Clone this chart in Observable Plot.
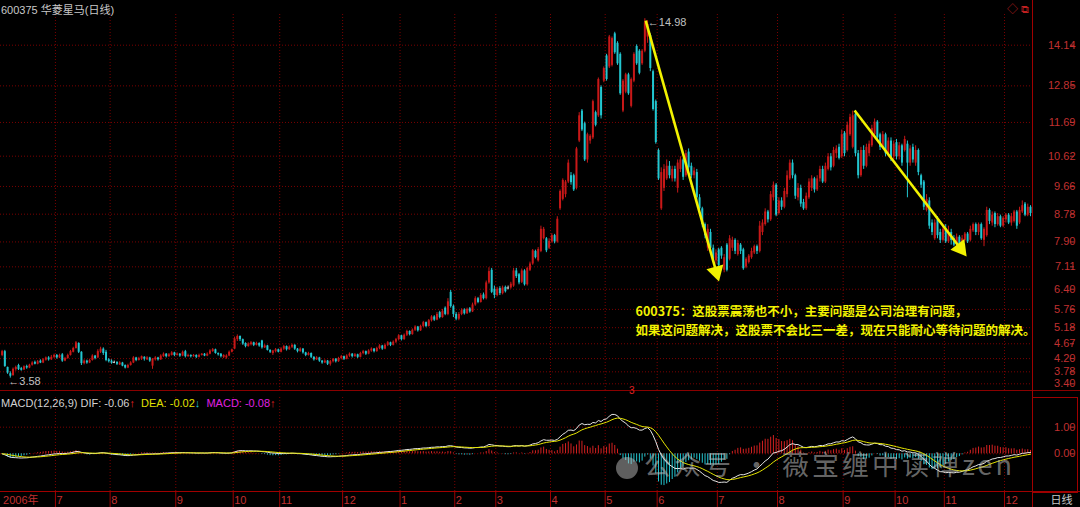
<!DOCTYPE html>
<html><head><meta charset="utf-8">
<script src="https://cdn.jsdelivr.net/npm/d3@7"></script>
<script src="https://cdn.jsdelivr.net/npm/@observablehq/plot@0.6"></script>
<style>
body{margin:0;background:#000;}
#wrap{position:relative;width:1080px;height:507px;background:#000;overflow:hidden;font-family:"Liberation Sans","Noto Sans CJK SC",sans-serif;}
.abs{position:absolute;}
#title{left:1px;top:1px;font-size:11px;color:#c8c8c8;white-space:pre;}
#macdHead{left:1px;top:397px;font-size:11px;color:#d2d2d2;white-space:pre;}
#icons{left:1007px;top:0px;font-size:11px;color:#c02020;white-space:pre;}
#wm{left:616px;top:444px;font-family:"Noto Sans CJK SC",sans-serif;font-size:27px;color:rgba(190,190,190,0.55);white-space:pre;letter-spacing:3px;}
.vline{position:absolute;left:1032px;top:0;width:1px;height:507px;background:#a00000;}
.hline{position:absolute;left:0;width:1080px;height:1px;background:#8a0000;}
#box{position:absolute;left:1032px;top:397px;width:45px;height:94px;border:1px solid #a00000;border-left:none;}
</style></head><body>
<div id="wrap">
  <div id="mainChart" class="abs" style="left:0;top:0"></div>
  <div id="macdChart" class="abs" style="left:0;top:390px"></div>
  <div id="axisChart" class="abs" style="left:0;top:491px"></div>
  <div class="hline" style="top:390px"></div>
  <div class="hline" style="top:491px;background:#a00000"></div>
  <div id="box"></div>
  <div class="vline"></div>
  <div id="title" class="abs">600375 华菱星马(日线)</div>
  <div id="icons" class="abs">◇ ⧉</div>
  <div id="macdHead" class="abs">MACD(12,26,9) DIF: -0.06<span style="color:#e02020">↑</span>  <span style="color:#e0e000">DEA: -0.02</span><span style="color:#20c8d8">↓</span>  <span style="color:#e020e0">MACD: -0.08</span><span style="color:#e02020">↑</span></div>
  <div class="abs" style="left:629px;top:385px;font-size:10px;color:#e02020">3</div>
  <div id="wm" class="abs"><span style="display:inline-block;width:22px;height:22px;border-radius:50%;background:rgba(190,190,190,0.5);vertical-align:middle;margin-right:6px"></span>公众号 · 薇宝缠中读禅zen</div>
</div>
<script>
// ---------- data ----------
const monthTickIndex = [0, 20, 40, 64, 85, 102, 125, 146, 166, 181, 201, 221, 240, 262, 284, 308, 327, 345, 367];
const monthTickLabel = ["2006年","7","8","9","10","11","12","1","2","3","4","5","6","7","8","9","10","11","12"];
const priceTicks = [3.40,3.78,4.20,4.67,5.18,5.76,6.40,7.11,7.90,8.78,9.66,10.62,11.69,12.85,14.14];
const macdTicks = [0, 1];
// daily candles: [open, high, low, close]
const candles = [
[4.30,4.46,4.26,4.42],[4.42,4.46,3.92,3.95],[3.92,3.93,3.70,3.74],[3.72,3.78,3.58,3.64],[3.66,3.90,3.64,3.86],
[3.85,3.96,3.80,3.92],[3.98,4.02,3.82,3.85],[3.88,3.92,3.80,3.83],[3.84,3.97,3.82,3.94],[3.95,3.99,3.86,3.90],
[3.90,4.02,3.88,3.99],[3.99,4.10,3.96,4.06],[4.08,4.12,4.00,4.02],[4.02,4.14,4.00,4.10],[4.12,4.16,4.04,4.06],
[4.06,4.20,4.04,4.16],[4.15,4.25,4.12,4.22],[4.22,4.26,4.12,4.16],[4.16,4.30,4.14,4.24],[4.24,4.34,4.20,4.30],
[4.30,4.33,4.18,4.22],[4.22,4.34,4.20,4.30],[4.32,4.36,4.08,4.12],[4.12,4.24,4.10,4.20],[4.20,4.34,4.18,4.30],
[4.30,4.46,4.28,4.42],[4.40,4.56,4.38,4.52],[4.52,4.74,4.50,4.70],[4.68,4.70,4.36,4.40],[4.40,4.42,3.98,4.04],
[4.04,4.16,4.00,4.12],[4.12,4.15,4.02,4.06],[4.06,4.18,4.04,4.14],[4.14,4.32,4.12,4.28],[4.28,4.30,4.16,4.20],
[4.22,4.48,4.20,4.42],[4.40,4.56,4.36,4.50],[4.50,4.54,4.30,4.36],[4.40,4.46,4.10,4.14],[4.16,4.20,4.06,4.10],
[4.12,4.16,4.02,4.06],[4.08,4.12,4.04,4.08],[4.08,4.10,3.98,4.02],[4.00,4.10,3.98,4.06],[4.06,4.08,3.94,3.96],
[3.98,4.00,3.87,3.90],[3.90,4.02,3.88,3.98],[3.98,4.10,3.96,4.06],[4.06,4.26,4.04,4.22],[4.22,4.24,4.10,4.14],
[4.14,4.24,4.12,4.20],[4.18,4.28,4.14,4.26],[4.24,4.26,4.12,4.18],[4.16,4.26,4.14,4.22],[4.22,4.24,4.08,4.12],
[3.96,4.20,3.86,4.18],[4.16,4.26,4.12,4.22],[4.22,4.24,4.12,4.16],[4.16,4.32,4.14,4.28],[4.26,4.38,4.24,4.34],
[4.34,4.36,4.22,4.26],[4.26,4.36,4.24,4.32],[4.30,4.42,4.28,4.38],[4.38,4.40,4.26,4.30],
[4.30,4.38,4.28,4.34],[4.34,4.36,4.24,4.28],[4.28,4.44,4.26,4.40],[4.42,4.46,4.22,4.26],[4.26,4.34,4.24,4.30],
[4.30,4.32,4.22,4.26],[4.26,4.33,4.24,4.30],[4.30,4.32,4.20,4.24],[4.24,4.34,4.22,4.30],[4.30,4.36,4.28,4.34],
[4.34,4.36,4.26,4.28],[4.28,4.38,4.26,4.34],[4.34,4.48,4.32,4.44],[4.42,4.52,4.40,4.48],[4.48,4.50,4.34,4.36],
[4.36,4.38,4.28,4.32],[4.34,4.36,4.22,4.26],[4.24,4.32,4.20,4.30],[4.22,4.32,4.18,4.28],[4.28,4.44,4.26,4.40],
[4.40,4.50,4.38,4.48],
[4.50,4.88,4.48,4.82],[4.80,4.95,4.74,4.90],[4.90,4.92,4.74,4.80],[4.80,4.82,4.62,4.66],[4.68,4.70,4.54,4.58],
[4.58,4.70,4.56,4.66],[4.64,4.74,4.60,4.70],[4.70,4.72,4.58,4.62],[4.62,4.72,4.60,4.68],[4.68,4.70,4.56,4.60],
[4.76,4.78,4.50,4.54],[4.54,4.64,4.52,4.60],[4.60,4.62,4.44,4.46],[4.46,4.48,4.36,4.40],[4.36,4.46,4.30,4.44],
[4.42,4.52,4.38,4.48],[4.48,4.50,4.38,4.40],
[4.40,4.54,4.38,4.50],[4.50,4.62,4.46,4.58],[4.58,4.60,4.44,4.48],[4.48,4.60,4.46,4.56],[4.56,4.66,4.52,4.62],
[4.62,4.64,4.46,4.50],[4.50,4.52,4.38,4.42],[4.42,4.54,4.40,4.50],[4.50,4.52,4.34,4.38],[4.38,4.40,4.26,4.30],
[4.30,4.40,4.28,4.36],[4.36,4.38,4.20,4.24],[4.24,4.26,4.12,4.16],[4.16,4.26,4.14,4.22],[4.22,4.24,4.08,4.12],
[4.12,4.14,4.02,4.06],[4.06,4.16,4.04,4.12],[4.12,4.14,3.98,4.02],[4.02,4.14,3.96,4.10],[4.10,4.20,4.06,4.18],
[4.18,4.20,4.06,4.10],[4.10,4.24,4.08,4.20],
[4.20,4.30,4.16,4.26],[4.26,4.28,4.14,4.18],[4.18,4.32,4.16,4.28],[4.28,4.38,4.24,4.34],[4.34,4.36,4.22,4.26],
[4.26,4.36,4.24,4.32],[4.32,4.34,4.20,4.24],[4.24,4.40,4.22,4.36],[4.36,4.46,4.32,4.42],[4.42,4.44,4.30,4.34],
[4.34,4.48,4.32,4.44],[4.44,4.54,4.40,4.50],[4.50,4.52,4.38,4.42],[4.42,4.56,4.40,4.52],[4.52,4.64,4.48,4.60],
[4.60,4.62,4.46,4.50],[4.50,4.66,4.48,4.62],[4.62,4.74,4.58,4.70],[4.70,4.72,4.58,4.62],[4.62,4.76,4.60,4.72],
[4.72,4.84,4.68,4.80],
[4.80,4.96,4.76,4.92],[4.92,4.94,4.76,4.80],[4.80,4.98,4.78,4.94],[4.94,5.10,4.90,5.06],[5.06,5.08,4.92,4.96],
[4.96,5.14,4.94,5.10],[5.10,5.24,5.06,5.20],[5.20,5.22,5.04,5.08],[5.08,5.26,5.06,5.22],[5.22,5.38,5.18,5.34],
[5.34,5.36,5.18,5.22],[5.22,5.44,5.20,5.40],[5.40,5.56,5.36,5.52],[5.52,5.56,5.38,5.42],[5.42,5.66,5.40,5.60],
[5.66,5.70,5.46,5.50],[5.50,5.76,5.48,5.70],[5.80,5.84,5.56,5.60],[5.60,6.10,5.56,6.00],[6.30,6.36,5.80,5.85],
[5.85,5.90,5.50,5.60],[5.60,5.66,5.40,5.45],[5.45,5.66,5.40,5.60],[5.60,5.78,5.56,5.72],[5.74,5.78,5.58,5.62],
[5.62,5.80,5.60,5.76],[5.78,5.82,5.64,5.68],[5.68,5.96,5.66,5.90],[5.90,6.16,5.86,6.10],[6.10,6.14,5.94,5.98],
[5.98,6.26,5.96,6.20],[6.22,6.28,6.06,6.10],[6.10,6.66,6.06,6.60],[6.60,7.08,6.56,6.96],[7.00,7.06,6.26,6.30],
[6.40,6.50,6.10,6.20],[6.20,6.46,6.16,6.40],[6.42,6.48,6.20,6.26],[6.26,6.50,6.22,6.44],[6.46,6.50,6.28,6.32],
[6.44,6.50,6.38,6.44],[6.44,6.62,6.40,6.56],[6.50,7.06,6.46,6.98],[6.98,7.06,6.74,6.80],[6.86,6.90,6.54,6.60],
[6.62,7.04,6.58,6.98],[6.98,7.02,6.50,6.54],[6.54,7.10,6.50,7.06],[7.00,7.26,6.96,7.20],[7.20,7.66,7.16,7.62],
[7.60,7.64,7.36,7.40],[7.30,7.72,7.26,7.66],[7.60,8.40,7.56,8.30],[8.00,8.36,7.96,8.30],[8.00,8.04,7.56,7.62],
[7.70,8.00,7.66,7.92],[7.90,8.16,7.86,8.10],[8.10,8.14,7.84,7.90],[7.90,8.70,7.86,8.62],
[8.95,9.55,8.90,9.50],[9.25,9.90,9.20,9.85],[9.40,9.85,9.30,9.80],[9.80,10.50,9.75,10.40],[10.00,10.10,9.70,9.78],
[10.00,10.05,9.50,9.55],[9.60,10.90,9.55,10.85],[11.10,12.00,11.05,11.90],[12.05,12.10,11.40,11.45],[11.65,11.70,10.45,10.50],
[10.50,11.35,10.40,11.30],[11.10,11.30,11.00,11.25],[11.20,12.40,11.15,12.35],[12.00,12.05,11.55,11.60],[11.90,13.10,11.85,13.05],
[12.80,12.85,11.80,11.90],[13.00,13.45,12.95,13.40],[13.80,13.85,13.00,13.05],[13.45,14.45,13.40,14.40],[13.50,14.40,13.45,14.35],
[14.50,14.55,13.85,13.90],[14.20,14.25,13.50,13.55],[13.85,13.90,12.55,12.60],[12.05,13.05,12.00,13.00],[12.65,13.25,12.60,13.20],
[13.20,13.25,12.55,12.60],[12.20,13.10,12.15,13.05],[13.00,13.90,12.95,13.85],[14.10,14.15,13.50,13.55],[13.95,14.00,13.20,13.25],
[13.55,14.00,13.50,13.95],[13.95,14.98,13.90,14.85],[14.40,14.92,14.20,14.80],[14.45,14.50,13.30,13.40],[13.30,13.35,12.05,12.10],
[12.35,12.40,11.00,11.05],[10.80,10.85,9.85,9.90],
[8.95,10.25,8.90,10.10],[9.60,10.35,9.50,10.20],[9.90,10.50,9.85,10.30],[10.30,10.45,9.90,10.00],[9.90,10.30,9.80,10.20],
[10.20,10.30,9.80,9.90],[9.60,10.50,9.45,10.40],[10.20,10.60,10.10,10.50],[10.50,10.55,9.85,9.95],[10.00,10.80,9.95,10.70],
[10.75,10.85,10.15,10.25],[10.30,10.40,9.90,10.00],[10.00,10.25,9.90,10.15],[10.10,10.20,9.20,9.30],[9.30,9.40,8.90,8.95],
[8.95,9.00,8.35,8.45],[8.45,8.50,8.00,8.10],[7.70,8.45,7.60,8.30],[8.20,8.30,7.60,7.70],[7.70,7.80,7.30,7.35],
[7.30,7.65,7.20,7.55],[7.65,7.70,7.10,7.15],[7.70,7.75,7.35,7.45],[7.00,7.50,6.92,7.40],[7.80,7.85,6.95,7.00],
[7.35,8.10,7.30,8.00],[7.70,8.05,7.60,7.95],[7.95,8.00,7.50,7.60],[7.50,7.95,7.45,7.85],[7.80,7.85,7.50,7.60],
[7.65,7.70,7.00,7.05],[7.10,7.40,7.05,7.35],[7.25,7.50,7.20,7.45],[7.40,7.70,7.35,7.60],[7.55,7.80,7.50,7.75],
[7.75,7.80,7.50,7.60],[7.60,8.55,7.55,8.40],[8.20,8.60,8.10,8.50],[8.45,8.95,8.40,8.85],[8.85,8.90,8.50,8.60],
[8.60,9.50,8.55,9.40],[9.30,9.80,9.20,9.70],[9.70,9.75,8.70,8.75],[8.80,9.30,8.75,9.20],[9.20,9.30,8.90,9.00],
[9.00,9.60,8.95,9.50],[9.40,10.15,9.30,10.00],[9.90,10.50,9.85,10.40],[10.40,10.50,9.90,10.00],[10.00,10.05,9.25,9.35],
[9.30,9.75,9.20,9.60],[9.60,9.70,9.00,9.10],[9.15,9.25,8.90,8.95],[8.95,9.45,8.90,9.35],[9.30,9.90,9.25,9.80],
[9.60,10.00,9.50,9.90],[9.90,9.95,9.45,9.55],[9.55,10.00,9.50,9.90],[9.90,10.30,9.80,10.20],[10.20,10.30,9.75,9.80],
[9.80,10.40,9.75,10.30],[10.20,10.70,10.15,10.60],[10.60,10.70,10.15,10.25],[10.30,10.90,10.25,10.80],[10.70,10.95,10.55,10.85],
[10.90,11.00,10.50,10.55],[10.60,11.45,10.55,11.30],[11.35,11.40,10.60,10.70],[10.80,11.70,10.75,11.60],[11.30,11.95,11.25,11.85],
[10.90,12.05,10.85,11.90],[11.95,12.07,10.60,10.70],[10.70,10.80,9.90,10.00],[10.00,10.90,9.95,10.80],[10.80,10.95,10.20,10.30],
[10.30,11.00,10.25,10.90],[10.70,11.10,10.60,11.00],[10.95,11.60,10.90,11.50],[11.30,11.80,11.20,11.70],[11.70,11.75,11.10,11.20],
[11.30,11.35,10.80,10.90],[10.90,11.40,10.85,11.30],[11.30,11.35,10.60,10.70],[10.70,11.20,10.60,11.10],[11.10,11.20,10.45,10.55],
[10.60,11.10,10.50,11.00],[11.05,11.15,10.50,10.60],[10.60,11.05,10.50,10.95],[10.95,11.00,10.30,10.40],[10.80,11.25,10.75,11.15],
[11.00,11.10,9.30,10.40],[10.40,10.95,10.30,10.85],[10.90,11.00,10.40,10.50],[10.40,10.95,10.30,10.80],[10.80,10.85,10.00,10.10],
[10.00,10.05,9.60,9.70],[9.80,9.85,8.90,9.00],[8.90,9.40,8.85,9.25],[9.20,9.30,8.30,8.40],[8.50,8.60,8.10,8.20],
[8.00,8.60,7.95,8.50],[8.60,8.70,8.00,8.10],[8.20,8.30,7.85,7.95],[7.95,8.40,7.90,8.30],[8.30,8.45,7.85,7.90],
[7.90,8.40,7.85,8.20],[8.20,8.30,7.80,7.95],[8.00,8.10,7.75,7.80],[7.80,8.15,7.75,8.05],[8.05,8.10,7.72,7.80],
[7.75,8.10,7.70,8.00],[7.95,8.20,7.90,8.15],[8.15,8.20,7.85,7.90],[7.95,8.40,7.90,8.30],[8.25,8.50,8.20,8.45],
[8.45,8.50,8.10,8.20],[8.20,8.50,8.10,8.45],[8.45,8.50,7.95,8.00],[7.95,8.35,7.75,8.30],[8.10,9.00,8.05,8.90],
[8.90,8.95,8.45,8.55],[8.50,8.85,8.40,8.75],[8.80,8.85,8.35,8.45],[8.45,8.80,8.40,8.70],[8.70,8.75,8.35,8.40],
[8.40,8.70,8.35,8.65],[8.60,8.80,8.50,8.75],[8.75,8.80,8.45,8.50],[8.50,8.80,8.40,8.70],[8.55,8.90,8.50,8.85],
[8.85,8.90,8.30,8.40],[8.50,9.00,8.45,8.90],[8.85,9.20,8.80,9.05],[9.10,9.15,8.70,8.75],[8.75,9.10,8.70,9.00],
[9.00,9.05,8.70,8.80]
];
const highMark = [{i: 235, price: 14.98}];
const lowMark = [{i: 3, price: 3.58}];
const trendArrows = [
  {i1: 235.3, p1: 14.92, i2: 261.6, p2: 6.80},
  {i1: 311.7, p1: 12.07, i2: 351.5, p2: 7.57}
];
const noteLines = [
  "600375：这股票震荡也不小，主要问题是公司治理有问题，",
  "如果这问题解决，这股票不会比三一差，现在只能耐心等待问题的解决。"
];
const notePrices = [5.68, 5.09];
const noteIndex = 231.6;

// ---------- derived ----------
const rows = candles.map((d, i) => ({i, o: d[0], h: d[1], l: d[2], c: d[3]}));
const RED = "#c81818", CYAN = "#22c6d0", DOJI = "#d8d8d8";
const col = d => d.c > d.o ? RED : d.c < d.o ? CYAN : DOJI;
// MACD(12,26,9) computed from the closes
let e12 = rows[0].c, e26 = rows[0].c, dea = 0;
const macd = rows.map((d, k) => {
  if (k > 0) { e12 = e12 * 11 / 13 + d.c * 2 / 13; e26 = e26 * 25 / 27 + d.c * 2 / 27; }
  const dif = e12 - e26;
  dea = dea * 8 / 10 + dif * 2 / 10;
  return {i: d.i, dif, dea, bar: 2 * (dif - dea)};
});

const X = {domain: [0, 376], range: [1.6, 1030], axis: null};
const Y = {domain: [3.40, 14.14], range: [383.3, 44.7]};
const GRID = "#7a0000";
const YELLOW = "#f2f200";
const FONT = "Liberation Sans, Noto Sans CJK SC, sans-serif";
const sep = monthTickIndex.slice(1).map(d => d - 0.5);

// filled arrow heads: orient a triangle along each arrow (same linear mapping as the plot scales)
const sx = d3.scaleLinear(X.domain, X.range), sy = d3.scaleLinear(Y.domain, Y.range);
const heads = trendArrows.map(a => {
  const dx = sx(a.i2) - sx(a.i1), dy = sy(a.p2) - sy(a.p1), len = Math.hypot(dx, dy);
  const ux = dx / len, uy = dy / len, back = 5;
  return {
    i: sx.invert(sx(a.i2) - ux * back), p: sy.invert(sy(a.p2) - uy * back),
    rot: Math.atan2(dx, -dy) * 180 / Math.PI,
    ti: sx.invert(sx(a.i2) - ux * 8), tp: sy.invert(sy(a.p2) - uy * 8)
  };
});
const shafts = trendArrows.map((a, k) => ({i1: a.i1, p1: a.p1, i2: heads[k].ti, p2: heads[k].tp}));

const main = Plot.plot({
  width: 1080, height: 390, marginTop: 14, marginBottom: 0, marginLeft: 0, marginRight: 48,
  style: {background: "transparent", fontFamily: FONT, fontSize: "11px", overflow: "visible"},
  x: X,
  y: Y,
  marks: [
    Plot.ruleY(priceTicks, {stroke: GRID, strokeDasharray: "1,2"}),
    Plot.ruleX(sep, {stroke: GRID, strokeDasharray: "1,2"}),
    Plot.axisY(priceTicks, {anchor: "right", tickSize: 4, tickPadding: 2, textAnchor: "end", dx: 37,
      tickFormat: d => d.toFixed(2), color: "#c03030", label: null, fontSize: 11}),
    Plot.ruleX(rows, {x: "i", y1: "l", y2: "h", stroke: col, strokeWidth: 1}),
    Plot.ruleX(rows.filter(d => d.o !== d.c), {x: "i", y1: "o", y2: "c", stroke: col, strokeWidth: 2}),
    Plot.ruleY(rows.filter(d => d.o === d.c), {y: "c", x1: d => d.i - 0.4, x2: d => d.i + 0.4, stroke: DOJI}),
    Plot.link(shafts, {x1: "i1", y1: "p1", x2: "i2", y2: "p2", stroke: YELLOW, strokeWidth: 2.6}),
    Plot.dot(heads, {x: "i", y: "p", symbol: "triangle", r: 6.5, fill: YELLOW, rotate: "rot"}),
    Plot.text(highMark, {x: "i", y: "price", text: d => "←" + d.price.toFixed(2), textAnchor: "start", dx: 3, dy: 4, fill: "#c0c0c0", fontSize: 11}),
    Plot.text(lowMark, {x: "i", y: "price", text: d => "←" + d.price.toFixed(2), textAnchor: "start", dx: -2, dy: 3, fill: "#c0c0c0", fontSize: 11}),
    Plot.text(noteLines, {x: () => noteIndex, y: (d, k) => notePrices[k], text: d => d, textAnchor: "start",
      fill: YELLOW, fontSize: 12.5, fontWeight: "bold", fontFamily: "Noto Sans CJK SC, sans-serif"})
  ]
});
document.getElementById("mainChart").append(main);

const macdPlot = Plot.plot({
  width: 1080, height: 101, marginTop: 7, marginBottom: 0, marginLeft: 0, marginRight: 48,
  style: {background: "transparent", fontFamily: FONT, fontSize: "11px", overflow: "visible"},
  x: X,
  y: {domain: [0, 1], range: [63.3, 36.7]},
  marks: [
    Plot.ruleY(macdTicks, {stroke: GRID, strokeDasharray: "1,2"}),
    Plot.ruleX(sep, {stroke: GRID, strokeDasharray: "1,2"}),
    Plot.ruleX(macd, {x: "i", y1: 0, y2: "bar", stroke: d => d.bar >= 0 ? "#d42020" : "#22c6d0", strokeWidth: 1}),
    Plot.line(macd, {x: "i", y: "dif", stroke: "#e6e6e6", strokeWidth: 1}),
    Plot.line(macd, {x: "i", y: "dea", stroke: "#e6e600", strokeWidth: 1}),
    Plot.axisY(macdTicks, {anchor: "right", tickSize: 4, tickPadding: 2, textAnchor: "end", dx: 37,
      tickFormat: d => d.toFixed(2), color: "#c03030", label: null, fontSize: 11})
  ]
});
document.getElementById("macdChart").append(macdPlot);

const axisPlot = Plot.plot({
  width: 1080, height: 16, marginTop: 0, marginBottom: 0, marginLeft: 0, marginRight: 0,
  style: {background: "transparent", fontFamily: FONT, fontSize: "11px", overflow: "visible"},
  x: X,
  marks: [
    Plot.ruleX(sep, {stroke: "#a00000"}),
    Plot.text(monthTickIndex, {x: d => d === 0 ? 0 : d - 0.5, text: (d, k) => monthTickLabel[k], textAnchor: "start",
      dx: 1, dy: 1, fill: "#c03030", fontSize: 11}),
    Plot.text(["日线"], {frameAnchor: "right", dx: -8, dy: 1, fill: "#c8c8c8", fontSize: 11})
  ]
});
document.getElementById("axisChart").append(axisPlot);
</script>
</body></html>
